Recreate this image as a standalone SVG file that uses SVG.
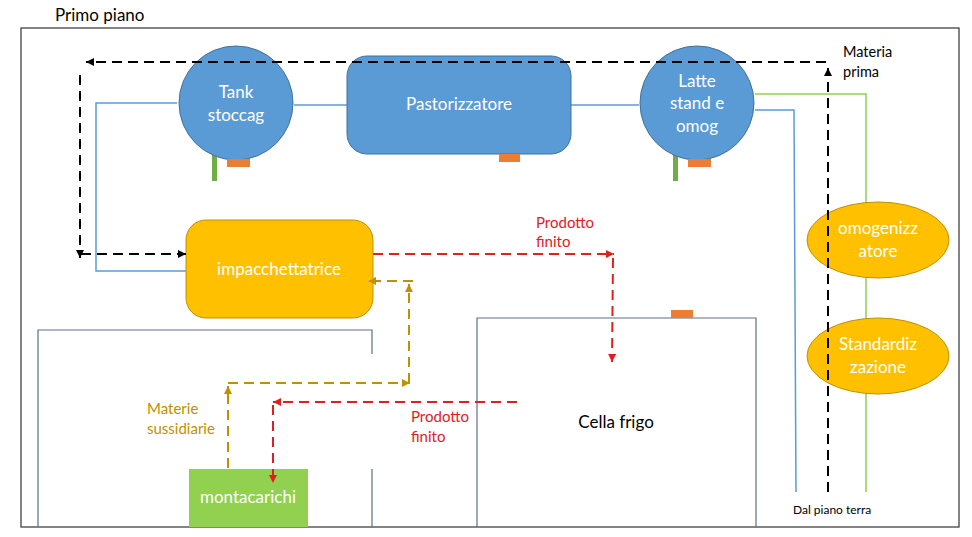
<svg xmlns="http://www.w3.org/2000/svg" width="972" height="537" viewBox="0 0 972 537">
<defs>
<style>
.t{font-family:Lato,"Open Sans","Liberation Sans",sans-serif}
.w{fill:#fff;font-size:17px;text-anchor:middle}
.lb{font-size:15px}
.room{fill:none;stroke:#5a7088;stroke-width:1.2}
.pipe{fill:none;stroke:#5B9BD5;stroke-width:1.5}
.gpipe{fill:none;stroke:#92D050;stroke-width:1.5}
.blk{fill:none;stroke:#000;stroke-width:2;stroke-dasharray:10 6}
.red{fill:none;stroke:#E0201F;stroke-width:2;stroke-dasharray:10 6}
.gold{fill:none;stroke:#BF9000;stroke-width:2;stroke-dasharray:10 6}
.blue{fill:#5B9BD5;stroke:#41719C;stroke-width:1}
.yel{fill:#FFC000;stroke:#BF9000;stroke-width:1}
.org{fill:#ED7D31}
.grn{fill:#70AD47}
</style>
<marker id="aK" viewBox="0 0 8 8" refX="8" refY="4" markerWidth="8" markerHeight="8" markerUnits="userSpaceOnUse" orient="auto"><path d="M0,0 L8,4 L0,8 z" fill="#000"/></marker>
<marker id="aR" viewBox="0 0 8 8" refX="8" refY="4" markerWidth="8" markerHeight="8" markerUnits="userSpaceOnUse" orient="auto"><path d="M0,0 L8,4 L0,8 z" fill="#E0201F"/></marker>
<marker id="aG" viewBox="0 0 8 8" refX="8" refY="4" markerWidth="8" markerHeight="8" markerUnits="userSpaceOnUse" orient="auto"><path d="M0,0 L8,4 L0,8 z" fill="#BF9000"/></marker>
</defs>
<rect width="972" height="537" fill="#fff"/>
<text class="t" x="55" y="21" font-size="17" fill="#000">Primo piano</text>
<rect x="21" y="28" width="938" height="499" fill="none" stroke="#333" stroke-width="1.2"/>
<g id="rooms">
<path class="room" d="M38,527 L38,330 L372,330 L372,354 M372,469 L372,527"/>
<path class="room" d="M477,527 L477,318 L756,318 L756,527"/>
<rect class="org" x="671" y="310" width="22" height="8"/>
</g>
<g id="pipes">
<path class="pipe" d="M177,103 L96,103 L96,271 L186,271"/>
<path class="pipe" d="M294,105 L347,105"/>
<path class="pipe" d="M571,105 L639,105"/>
<path class="pipe" d="M755,110 L794,110 L796,492"/>
<path class="gpipe" d="M755,94 L866,94 L866,492"/>
</g>
<g id="tank">
<rect class="grn" x="212" y="154" width="5" height="27"/>
<circle class="blue" cx="236" cy="103" r="57"/>
<rect class="org" x="227" y="159" width="23" height="8"/>
<text class="t w" x="236" y="98">Tank</text>
<text class="t w" x="236" y="121">stoccag</text>
</g>
<g id="pastorizzatore">
<rect class="blue" x="347" y="56" width="224" height="98" rx="20"/>
<rect class="org" x="499" y="154" width="21" height="8"/>
<text class="t w" x="459" y="110">Pastorizzatore</text>
</g>
<g id="latte">
<rect class="grn" x="673" y="154" width="5" height="27"/>
<circle class="blue" cx="697" cy="103" r="57"/>
<rect class="org" x="688" y="159" width="23" height="8"/>
<text class="t w" x="697" y="87">Latte</text>
<text class="t w" x="697" y="109">stand e</text>
<text class="t w" x="697" y="132">omog</text>
</g>
<g id="omogenizzatore">
<ellipse class="yel" cx="878" cy="240" rx="71" ry="38"/>
<text class="t w" x="878" y="234">omogenizz</text>
<text class="t w" x="878" y="257">atore</text>
</g>
<g id="standardizzazione">
<ellipse class="yel" cx="878" cy="356" rx="71" ry="38"/>
<text class="t w" x="878" y="350">Standardiz</text>
<text class="t w" x="878" y="373">zazione</text>
</g>
<g id="impacchettatrice">
<rect class="yel" x="186" y="220" width="187" height="98" rx="20" stroke="none"/>
<text class="t w" x="279" y="275">impacchettatrice</text>
</g>
<g id="montacarichi">
<rect x="189" y="469" width="119" height="58" fill="#92D050"/>
<text class="t w" x="248" y="503">montacarichi</text>
</g>
<g id="cella">
<text class="t" x="616" y="428" font-size="17" text-anchor="middle" fill="#000">Cella frigo</text>
</g>
<g id="connectors">
<path class="blk" d="M828,492 L828,68" marker-end="url(#aK)"/>
<path class="blk" d="M826,62 L86,62" marker-end="url(#aK)"/>
<path class="blk" d="M80,75 L80,258" marker-end="url(#aK)"/>
<path class="blk" d="M81,254 L186,254" marker-end="url(#aK)"/>
<path class="red" d="M373,254 L614,254" marker-end="url(#aR)"/>
<path class="red" d="M613,258 L612,362" marker-end="url(#aR)"/>
<path class="red" d="M517,402 L273,402" marker-end="url(#aR)"/>
<path class="red" d="M273,405 L273,483" marker-end="url(#aR)"/>
<path class="gold" d="M228,468 L228,386" marker-end="url(#aG)"/>
<path class="gold" d="M228,383 L410,383" marker-end="url(#aG)"/>
<path class="gold" d="M409,383 L409,284" marker-end="url(#aG)"/>
<path class="gold" d="M413,281 L368,281" marker-end="url(#aG)"/>
</g>
<g id="labels">
<text class="t" x="843" y="57" font-size="14.5" fill="#000">Materia</text>
<text class="t" x="843" y="77" font-size="14.5" fill="#000">prima</text>
<text class="t lb" x="536" y="228" fill="#E0201F">Prodotto</text>
<text class="t lb" x="536" y="247" fill="#E0201F">finito</text>
<text class="t lb" x="411" y="422" fill="#E0201F">Prodotto</text>
<text class="t lb" x="411" y="442" fill="#E0201F">finito</text>
<text class="t lb" x="147" y="414" fill="#BF9000">Materie</text>
<text class="t lb" x="147" y="434" fill="#BF9000">sussidiarie</text>
<text class="t" x="793" y="514" font-size="12" fill="#000">Dal piano terra</text>
</g>
</svg>
